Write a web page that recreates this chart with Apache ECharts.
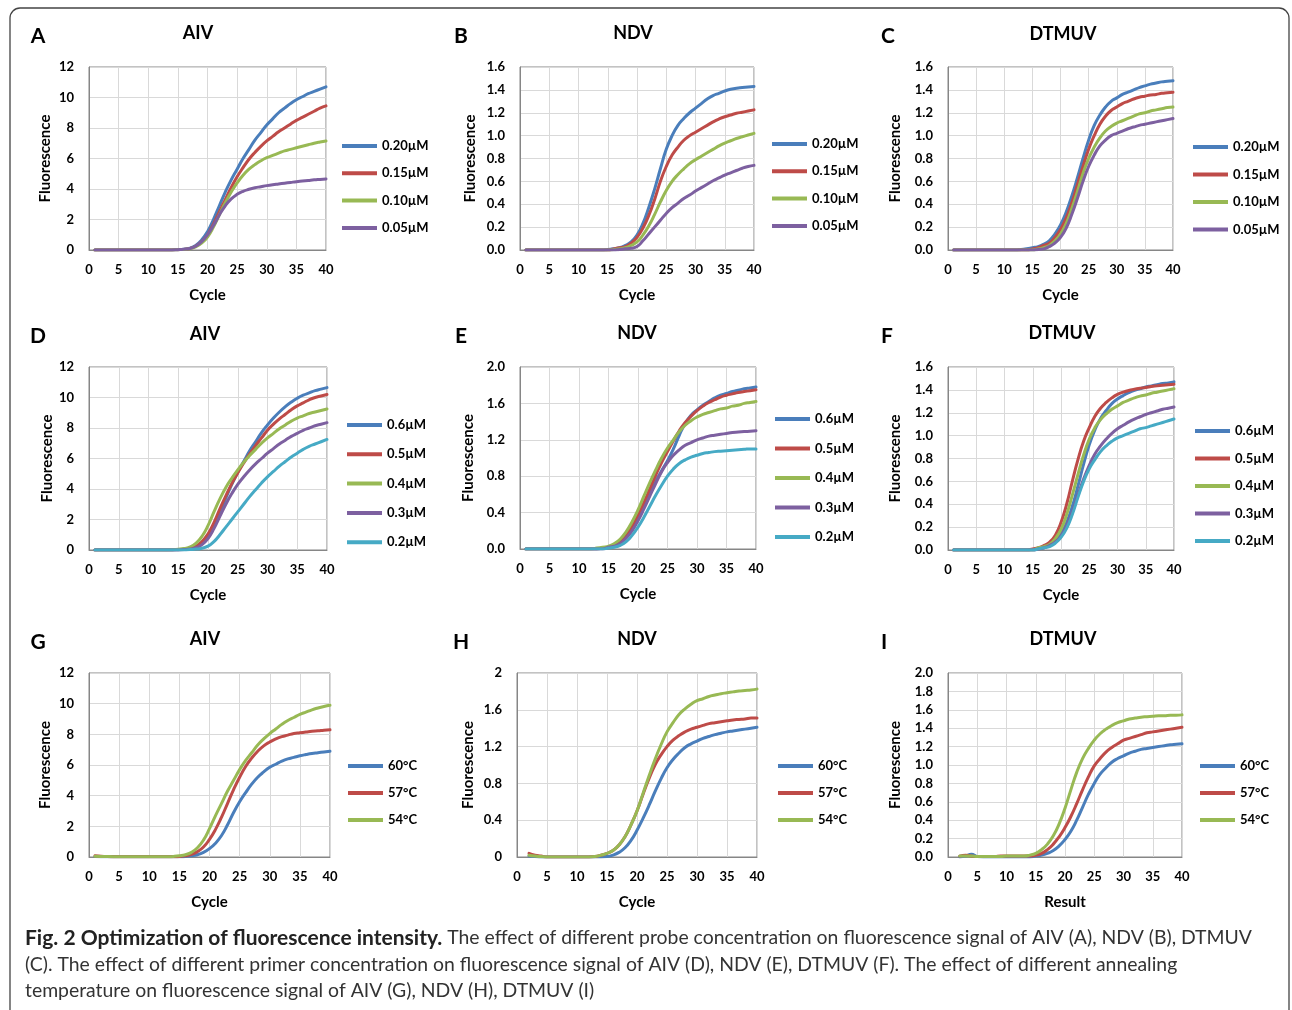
<!DOCTYPE html>
<html><head><meta charset="utf-8">
<script src="https://cdn.jsdelivr.net/npm/echarts@6/dist/echarts.min.js"></script>
<style>html,body{margin:0;padding:0;background:#fff}#chart{width:1292px;height:1010px}</style>
</head><body><div id="chart"></div>
<script>
// ---- data ----
const cycles = [1,2,3,4,5,6,7,8,9,10,11,12,13,14,15,16,17,18,19,20,21,22,23,24,25,26,27,28,29,30,31,32,33,34,35,36,37,38,39,40];

const probeNames = ['0.20µM','0.15µM','0.10µM','0.05µM'];
const primerNames = ['0.6µM','0.5µM','0.4µM','0.3µM','0.2µM'];
const tempNames = ['60°C','57°C','54°C'];

// A: AIV probe
const aivProbe020 = [0,0,0,0,0,0,0,0,0,0,0,0,0,0,0.02,0.05,0.12,0.3,0.65,1.2,2.0,2.9,3.8,4.6,5.3,6.0,6.6,7.2,7.7,8.2,8.6,9.0,9.3,9.6,9.85,10.05,10.25,10.4,10.55,10.7];
const aivProbe015 = [0,0,0,0,0,0,0,0,0,0,0,0,0,0,0.02,0.04,0.1,0.25,0.55,1.0,1.7,2.5,3.3,4.1,4.8,5.4,5.95,6.4,6.8,7.15,7.45,7.75,8.0,8.25,8.5,8.7,8.9,9.1,9.3,9.45];
const aivProbe010 = [0,0,0,0,0,0,0,0,0,0,0,0,0,0,0.02,0.04,0.08,0.2,0.45,0.85,1.5,2.3,3.1,3.8,4.4,4.9,5.3,5.6,5.85,6.05,6.2,6.35,6.5,6.6,6.7,6.8,6.9,7.0,7.08,7.15];
const aivProbe005 = [0,0,0,0,0,0,0,0,0,0,0,0,0,0,0.02,0.05,0.1,0.25,0.55,1.0,1.6,2.3,2.9,3.35,3.65,3.85,3.98,4.08,4.15,4.22,4.28,4.33,4.38,4.43,4.48,4.52,4.56,4.6,4.63,4.66];
// B: NDV probe
const ndvProbe020 = [0,0,0,0,0,0,0,0,0,0,0,0,0,0,0.005,0.01,0.02,0.04,0.07,0.13,0.23,0.37,0.53,0.71,0.88,1.0,1.09,1.15,1.2,1.24,1.28,1.32,1.35,1.37,1.39,1.405,1.415,1.42,1.425,1.43];
const ndvProbe015 = [0,0,0,0,0,0,0,0,0,0,0,0,0,0,0,0.01,0.02,0.03,0.06,0.11,0.19,0.3,0.44,0.6,0.73,0.83,0.9,0.96,1.0,1.03,1.06,1.09,1.12,1.145,1.165,1.18,1.195,1.205,1.215,1.225];
const ndvProbe010 = [0,0,0,0,0,0,0,0,0,0,0,0,0,0,0,0.005,0.01,0.02,0.04,0.07,0.13,0.21,0.31,0.42,0.52,0.6,0.66,0.71,0.755,0.79,0.82,0.85,0.88,0.91,0.935,0.955,0.975,0.99,1.005,1.02];
const ndvProbe005 = [0,0,0,0,0,0,0,0,0,0,0,0,0,0,0,0,0.005,0.01,0.015,0.03,0.08,0.14,0.2,0.26,0.32,0.37,0.41,0.45,0.48,0.515,0.545,0.575,0.605,0.63,0.655,0.675,0.695,0.715,0.73,0.74];
// C: DTMUV probe
const dtmuvProbe020 = [0,0,0,0,0,0,0,0,0,0,0,0,0.005,0.01,0.02,0.03,0.05,0.08,0.14,0.22,0.33,0.47,0.63,0.8,0.96,1.09,1.18,1.25,1.3,1.33,1.36,1.38,1.4,1.42,1.435,1.45,1.46,1.47,1.475,1.48];
const dtmuvProbe015 = [0,0,0,0,0,0,0,0,0,0,0,0,0,0,0.01,0.02,0.04,0.06,0.11,0.18,0.28,0.41,0.57,0.73,0.88,1.0,1.1,1.17,1.22,1.25,1.28,1.3,1.32,1.335,1.345,1.355,1.36,1.37,1.375,1.38];
const dtmuvProbe010 = [0,0,0,0,0,0,0,0,0,0,0,0,0,0,0,0.01,0.02,0.04,0.08,0.14,0.23,0.36,0.51,0.67,0.8,0.9,0.98,1.04,1.08,1.11,1.13,1.15,1.17,1.19,1.2,1.215,1.225,1.235,1.245,1.25];
const dtmuvProbe005 = [0,0,0,0,0,0,0,0,0,0,0,0,0,0,0,0.005,0.01,0.03,0.06,0.11,0.19,0.31,0.45,0.6,0.73,0.83,0.91,0.96,1.0,1.02,1.04,1.06,1.075,1.09,1.1,1.11,1.12,1.13,1.14,1.15];
// D: AIV primer
const aivPrimer06 = [0,0,0,0,0,0,0,0,0,0,0,0,0,0,0.02,0.05,0.1,0.2,0.45,0.9,1.6,2.5,3.4,4.3,5.1,5.8,6.5,7.1,7.7,8.2,8.65,9.05,9.4,9.7,9.95,10.15,10.3,10.45,10.55,10.65];
const aivPrimer05 = [0,0,0,0,0,0,0,0,0,0,0,0,0,0,0.02,0.05,0.1,0.25,0.55,1.05,1.8,2.7,3.55,4.35,5.05,5.7,6.3,6.85,7.35,7.85,8.25,8.6,8.9,9.2,9.45,9.65,9.85,10.0,10.1,10.2];
const aivPrimer04 = [0,0,0,0,0,0,0,0,0,0,0,0,0,0.02,0.05,0.1,0.2,0.45,0.9,1.6,2.5,3.35,4.1,4.7,5.25,5.75,6.2,6.6,7.0,7.35,7.65,7.95,8.2,8.45,8.65,8.8,8.95,9.05,9.15,9.25];
const aivPrimer03 = [0,0,0,0,0,0,0,0,0,0,0,0,0,0,0,0.03,0.07,0.15,0.35,0.75,1.4,2.2,3.0,3.7,4.3,4.8,5.25,5.65,6.0,6.35,6.65,6.95,7.2,7.45,7.65,7.85,8.0,8.15,8.25,8.35];
const aivPrimer02 = [0,0,0,0,0,0,0,0,0,0,0,0,0,0,0,0,0.03,0.06,0.12,0.25,0.55,1.0,1.5,2.0,2.5,3.0,3.5,3.95,4.4,4.8,5.15,5.5,5.8,6.1,6.35,6.6,6.8,6.95,7.1,7.25];
// E: NDV primer
const ndvPrimer06 = [0,0,0,0,0,0,0,0,0,0,0,0,0,0.01,0.02,0.04,0.07,0.13,0.22,0.33,0.46,0.6,0.74,0.86,0.97,1.1,1.25,1.38,1.47,1.53,1.58,1.62,1.66,1.69,1.71,1.73,1.745,1.76,1.77,1.78];
const ndvPrimer05 = [0,0,0,0,0,0,0,0,0,0,0,0,0,0.01,0.02,0.04,0.08,0.15,0.25,0.37,0.51,0.66,0.81,0.95,1.07,1.19,1.3,1.39,1.46,1.52,1.57,1.61,1.64,1.67,1.69,1.705,1.72,1.73,1.74,1.75];
const ndvPrimer04 = [0,0,0,0,0,0,0,0,0,0,0,0,0.01,0.02,0.03,0.06,0.11,0.19,0.3,0.43,0.58,0.73,0.87,1.0,1.11,1.2,1.29,1.36,1.41,1.45,1.48,1.5,1.52,1.54,1.55,1.57,1.58,1.6,1.61,1.62];
const ndvPrimer03 = [0,0,0,0,0,0,0,0,0,0,0,0,0,0,0.02,0.03,0.06,0.12,0.2,0.31,0.44,0.58,0.72,0.85,0.95,1.03,1.09,1.14,1.17,1.2,1.22,1.24,1.25,1.26,1.27,1.28,1.285,1.29,1.295,1.3];
const ndvPrimer02 = [0,0,0,0,0,0,0,0,0,0,0,0,0,0,0.01,0.02,0.04,0.08,0.15,0.24,0.35,0.47,0.59,0.7,0.8,0.88,0.94,0.98,1.01,1.03,1.05,1.06,1.07,1.075,1.08,1.085,1.09,1.095,1.1,1.1];
// F: DTMUV primer
const dtmuvPrimer06 = [0,0,0,0,0,0,0,0,0,0,0,0,0,0,0,0.01,0.02,0.04,0.08,0.14,0.24,0.38,0.56,0.75,0.92,1.05,1.15,1.22,1.28,1.32,1.35,1.375,1.395,1.41,1.425,1.435,1.445,1.455,1.46,1.47];
const dtmuvPrimer05 = [0,0,0,0,0,0,0,0,0,0,0,0,0,0,0.01,0.02,0.04,0.07,0.13,0.24,0.4,0.6,0.79,0.95,1.07,1.17,1.24,1.29,1.33,1.36,1.38,1.395,1.405,1.415,1.42,1.43,1.435,1.44,1.445,1.45];
const dtmuvPrimer04 = [0,0,0,0,0,0,0,0,0,0,0,0,0,0,0,0.02,0.03,0.05,0.1,0.18,0.31,0.48,0.66,0.83,0.97,1.07,1.14,1.19,1.23,1.26,1.29,1.31,1.33,1.345,1.355,1.37,1.38,1.39,1.4,1.41];
const dtmuvPrimer03 = [0,0,0,0,0,0,0,0,0,0,0,0,0,0,0,0.01,0.02,0.04,0.07,0.12,0.21,0.33,0.48,0.62,0.74,0.84,0.91,0.97,1.02,1.06,1.09,1.12,1.145,1.165,1.185,1.2,1.215,1.23,1.24,1.25];
const dtmuvPrimer02 = [0,0,0,0,0,0,0,0,0,0,0,0,0,0,0,0.01,0.02,0.03,0.06,0.11,0.19,0.31,0.46,0.6,0.71,0.79,0.86,0.91,0.95,0.98,1.0,1.02,1.04,1.06,1.07,1.085,1.1,1.115,1.13,1.145];
// G: AIV annealing temperature
const aivTemp60 = [0.03,0.02,0.02,0.01,0.01,0.01,0.01,0.01,0.01,0.01,0.01,0.01,0.01,0.01,0.02,0.04,0.08,0.15,0.3,0.55,0.9,1.4,2.1,2.9,3.6,4.2,4.75,5.2,5.55,5.85,6.05,6.25,6.4,6.5,6.6,6.68,6.75,6.8,6.85,6.9];
const aivTemp57 = [0.08,0.05,0.03,0.02,0.01,0.01,0.01,0.01,0.01,0.01,0.01,0.01,0.01,0.02,0.04,0.08,0.17,0.35,0.65,1.15,1.8,2.6,3.5,4.4,5.2,5.9,6.45,6.9,7.25,7.5,7.7,7.85,7.95,8.05,8.1,8.15,8.2,8.23,8.27,8.3];
const aivTemp54 = [0.05,0.04,0.03,0.02,0.02,0.01,0.01,0.01,0.01,0.01,0.01,0.01,0.02,0.04,0.08,0.15,0.3,0.6,1.1,1.85,2.7,3.5,4.3,5.0,5.7,6.3,6.8,7.3,7.7,8.05,8.35,8.65,8.9,9.1,9.3,9.45,9.6,9.72,9.82,9.9];
// H: NDV annealing temperature
const ndvTemp60 = [null,0.01,0.005,0,0,0,0,0,0,0,0,0,0,0,0.005,0.02,0.05,0.1,0.18,0.29,0.42,0.56,0.71,0.85,0.97,1.06,1.13,1.19,1.23,1.26,1.29,1.31,1.33,1.345,1.36,1.37,1.38,1.39,1.4,1.41];
const ndvTemp57 = [null,0.04,0.02,0.01,0,0,0,0,0,0,0,0,0.005,0.02,0.04,0.07,0.13,0.22,0.35,0.5,0.68,0.85,1.0,1.11,1.2,1.27,1.32,1.36,1.39,1.41,1.43,1.45,1.46,1.47,1.48,1.49,1.495,1.5,1.51,1.51];
const ndvTemp54 = [null,0.02,0.01,0.005,0,0,0,0,0,0,0,0,0.005,0.02,0.04,0.07,0.13,0.22,0.35,0.5,0.69,0.88,1.06,1.22,1.36,1.46,1.55,1.61,1.66,1.7,1.72,1.745,1.76,1.775,1.785,1.795,1.805,1.81,1.815,1.825];
// I: DTMUV annealing temperature
const dtmuvTemp60 = [null,0,0.01,0.03,0.005,0,0,0,0,0,0,0,0,0,0.01,0.02,0.04,0.07,0.12,0.19,0.28,0.4,0.54,0.68,0.8,0.9,0.97,1.03,1.07,1.1,1.13,1.15,1.17,1.18,1.19,1.2,1.21,1.22,1.225,1.23];
const dtmuvTemp57 = [null,0.01,0.02,0.01,0.005,0.005,0.005,0.005,0.01,0.01,0.01,0.01,0.01,0.01,0.02,0.04,0.08,0.14,0.22,0.32,0.44,0.58,0.73,0.87,0.99,1.07,1.14,1.19,1.23,1.27,1.29,1.31,1.33,1.35,1.36,1.37,1.38,1.39,1.4,1.41];
const dtmuvTemp54 = [null,0.01,0.01,0.01,0.005,0.005,0.005,0.005,0.005,0.01,0.01,0.01,0.01,0.02,0.04,0.08,0.14,0.23,0.36,0.53,0.73,0.92,1.07,1.18,1.27,1.34,1.39,1.43,1.46,1.48,1.5,1.51,1.52,1.525,1.53,1.535,1.535,1.54,1.54,1.545];

const xTicks = {min:0, max:40, interval:5};

// ---- styling / layout ----
const BLUE='#4A7EBB', RED='#BE4B48', GREEN='#98B954', PURPLE='#7D60A0', CYAN='#46AAC5';
const FONT = 'Lato';

const panels = [
  {letter:'A', title:'AIV',   grid:[89,67,237,183],  yMax:12, yInt:2,   fmt:null, xName:'Cycle',  titlePos:[198,33],  letterPos:[38,36],  legend:[342,146,27.3], yGap:36,
   names:probeNames, colors:[BLUE,RED,GREEN,PURPLE], data:[aivProbe020,aivProbe015,aivProbe010,aivProbe005]},
  {letter:'B', title:'NDV',   grid:[520,67,234,183], yMax:1.6, yInt:0.2, fmt:1, xName:'Cycle',  titlePos:[633,33],  letterPos:[461,36], legend:[772,144,27.3], yGap:42,
   names:probeNames, colors:[BLUE,RED,GREEN,PURPLE], data:[ndvProbe020,ndvProbe015,ndvProbe010,ndvProbe005]},
  {letter:'C', title:'DTMUV', grid:[948,67,225,183], yMax:1.6, yInt:0.2, fmt:1, xName:'Cycle',  titlePos:[1063,34], letterPos:[888,36], legend:[1193,147,27.5], yGap:45,
   names:probeNames, colors:[BLUE,RED,GREEN,PURPLE], data:[dtmuvProbe020,dtmuvProbe015,dtmuvProbe010,dtmuvProbe005]},
  {letter:'D', title:'AIV',   grid:[89,367,238,183], yMax:12, yInt:2,   fmt:null, xName:'Cycle',  titlePos:[205,334], letterPos:[38,336], legend:[347,425,29.3], yGap:34,
   names:primerNames, colors:[BLUE,RED,GREEN,PURPLE,CYAN], data:[aivPrimer06,aivPrimer05,aivPrimer04,aivPrimer03,aivPrimer02]},
  {letter:'E', title:'NDV',   grid:[520,367,236,182], yMax:2.0, yInt:0.4, fmt:1, xName:'Cycle',  titlePos:[637,333], letterPos:[461,336], legend:[775,419,29.5], yGap:44,
   names:primerNames, colors:[BLUE,RED,GREEN,PURPLE,CYAN], data:[ndvPrimer06,ndvPrimer05,ndvPrimer04,ndvPrimer03,ndvPrimer02]},
  {letter:'F', title:'DTMUV', grid:[948,367,226,183], yMax:1.6, yInt:0.2, fmt:1, xName:'Cycle',  titlePos:[1062,333], letterPos:[887,336], legend:[1195,431,27.5], yGap:45,
   names:primerNames, colors:[BLUE,RED,GREEN,PURPLE,CYAN], data:[dtmuvPrimer06,dtmuvPrimer05,dtmuvPrimer04,dtmuvPrimer03,dtmuvPrimer02]},
  {letter:'G', title:'AIV',   grid:[89,673,241,184], yMax:12, yInt:2,   fmt:null, xName:'Cycle',  titlePos:[205,639], letterPos:[38,642], legend:[348,766,27], yGap:36,
   names:tempNames, colors:[BLUE,RED,GREEN], data:[aivTemp60,aivTemp57,aivTemp54]},
  {letter:'H', title:'NDV',   grid:[517,673,240,184], yMax:2, yInt:0.4, fmt:null, xName:'Cycle',  titlePos:[637,639], letterPos:[461,642], legend:[778,766,27], yGap:41,
   names:tempNames, colors:[BLUE,RED,GREEN], data:[ndvTemp60,ndvTemp57,ndvTemp54]},
  {letter:'I', title:'DTMUV', grid:[948,673,234,184], yMax:2.0, yInt:0.2, fmt:1, xName:'Result', titlePos:[1063,639], letterPos:[884,642], legend:[1200,766,27], yGap:45,
   names:tempNames, colors:[BLUE,RED,GREEN], data:[dtmuvTemp60,dtmuvTemp57,dtmuvTemp54]}
];

const grids=[], xAxes=[], yAxes=[], series=[], legends=[], graphics=[];
const tickFont = {fontFamily:FONT, fontWeight:'bold', fontSize:13, color:'#000'};
const nameFont = {fontFamily:FONT, fontWeight:'bold', fontSize:15, color:'#000'};

panels.forEach((p,i)=>{
  grids.push({left:p.grid[0], top:p.grid[1], width:p.grid[2], height:p.grid[3], show:true, borderColor:'#868686', borderWidth:1, containLabel:false});
  xAxes.push({gridIndex:i, type:'value', min:xTicks.min, max:xTicks.max, interval:xTicks.interval,
    name:p.xName, nameLocation:'middle', nameGap:38, nameTextStyle:nameFont,
    axisLine:{show:true, lineStyle:{color:'#868686', width:1}}, axisTick:{show:false},
    axisLabel:Object.assign({margin:13}, tickFont),
    splitLine:{show:true, lineStyle:{color:'#d9d9d9', width:1}}});
  yAxes.push({gridIndex:i, type:'value', min:0, max:p.yMax, interval:p.yInt,
    name:'Fluorescence', nameLocation:'middle', nameRotate:90, nameGap:p.yGap, nameTextStyle:nameFont,
    axisLine:{show:true, lineStyle:{color:'#868686', width:1}}, axisTick:{show:false},
    axisLabel:Object.assign({margin:15, formatter: p.fmt ? (v=>v.toFixed(p.fmt)) : (v=>String(Math.round(v*10)/10))}, tickFont),
    splitLine:{show:true, lineStyle:{color:'#d9d9d9', width:1}}});
  p.names.forEach((n,k)=>{
    const vals = p.data[k];
    series.push({type:'line', name:n, xAxisIndex:i, yAxisIndex:i, showSymbol:false, symbol:'none',
      smooth:0.5, color:p.colors[k],
      lineStyle:{width:3, color:p.colors[k], cap:'round', join:'round'},
      data: cycles.map((c,j)=> vals[j]==null ? null : [c, vals[j]]).filter(d=>d),
      z:2+k, animation:false});
  });
  legends.push({orient:'vertical', left:p.legend[0], top:p.legend[1]-8, itemWidth:35, itemHeight:4, icon:'rect',
    itemGap:p.legend[2]-16, selectedMode:false, padding:0,
    textStyle:Object.assign({lineHeight:16}, tickFont), data:p.names.slice()});
  graphics.push({type:'text', x:p.titlePos[0], y:p.titlePos[1], style:{text:p.title, fill:'#000', font:'bold 18px '+FONT, align:'center', verticalAlign:'middle'}});
  graphics.push({type:'text', x:p.letterPos[0], y:p.letterPos[1], style:{text:p.letter, fill:'#000', font:'bold 21px '+FONT, align:'center', verticalAlign:'middle'}});
});

// caption
const capLines = [
  '{b|Fig. 2 Optimization of fluorescence intensity.} The effect of different probe concentration on fluorescence signal of AIV (A), NDV (B), DTMUV',
  '(C). The effect of different primer concentration on fluorescence signal of AIV (D), NDV (E), DTMUV (F). The effect of different annealing',
  'temperature on fluorescence signal of AIV (G), NDV (H), DTMUV (I)'
];
const capY = [938, 965, 991];
capLines.forEach((t,i)=>{
  graphics.push({type:'text', x:25, y:capY[i], style:{text:t, fill:'#333', font:'19.4px '+FONT, align:'left', verticalAlign:'middle',
    rich:{b:{fontWeight:'bold', fontSize:21, fontFamily:FONT, fill:'#222'}}}});
});
// outer rounded frame
graphics.push({type:'rect', shape:{x:10, y:8, width:1279, height:1030, r:10}, style:{fill:'none', stroke:'#444', lineWidth:1.3}, z:-1});

const chart = echarts.init(document.getElementById('chart'), null, {renderer:'canvas'});
chart.setOption({
  animation:false,
  backgroundColor:'#fff',
  grid:grids, xAxis:xAxes, yAxis:yAxes, series:series, legend:legends, graphic:graphics
});
</script></body></html>
